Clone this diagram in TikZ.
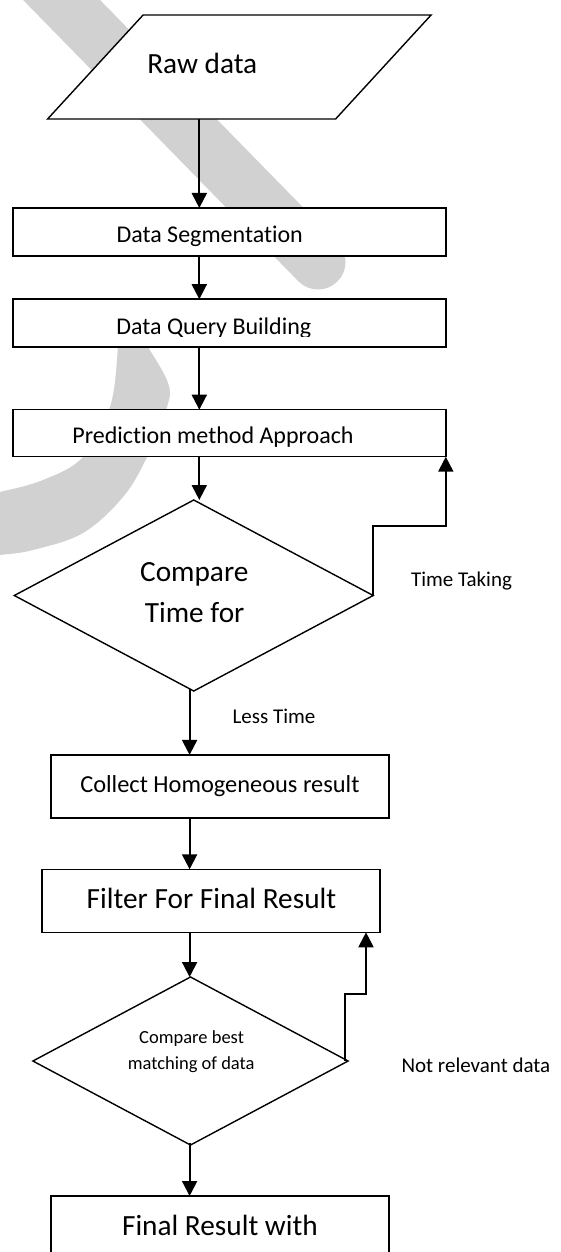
\documentclass[tikz,border=0pt]{standalone}
\usepackage{fontspec}
\setmainfont{Carlito}[Ligatures=NoCommon]
\usetikzlibrary{arrows.meta,shapes.geometric}
\definecolor{wm}{gray}{0.82}
\begin{document}
\begin{tikzpicture}[x=1pt,y=-1pt,
  box/.style={draw, line width=1.5pt, fill=white, rectangle, inner sep=0pt, outer sep=0pt},
  dia/.style={draw, line width=1.4pt, fill=white, diamond, inner sep=0pt, outer sep=0pt},
  arr/.style={line width=2pt, -{Triangle[width=15pt,length=15pt]}},
  lbl/.style={inner sep=0pt, outer sep=0pt, anchor=base, text=black},
  fbig/.style={font=\fontsize{29.3}{34}\selectfont},
  fmid/.style={font=\fontsize{24}{29}\selectfont},
  fmidb/.style={font=\fontsize{24.4}{29}\selectfont},
  fsml/.style={font=\fontsize{21}{25}\selectfont},
  fxs/.style={font=\fontsize{18.5}{22}\selectfont}]
\useasboundingbox (0,0) rectangle (561,1252);
\clip (0,0) rectangle (561,1252);
\fill[white] (0,0) rectangle (561,1252);

% watermark
\draw[wm, line width=55pt, line cap=round] (42,-20) -- (318,262);
\fill[wm] plot[smooth, tension=0.6] coordinates {(118,322) (118,347) (110,407) (83,457) (43,480) (0,492) (-10,494)}
  -- plot[smooth, tension=0.6] coordinates {(-10,556) (0,555) (33,550) (83,533) (123,497) (147,457) (167,407) (168,383) (148,347) (132,322)} -- cycle;

% input parallelogram
\draw[line width=1.4pt, fill=white] (143.1,15) -- (431.1,15) -- (335.6,119) -- (47.6,119) -- cycle;
\coordinate (rawS) at (199.3,119);
\coordinate (ax1) at (199.3,0);
\coordinate (ax2) at (189.6,0);
\node[lbl, fbig] (rawT) at (202.3,73.3) {Raw data};

% boxes
\node[box, minimum width=432.6, minimum height=48] (seg) at (229.5,232) {};
\node[box, minimum width=432.6, minimum height=48] (query) at (229.5,323.2) {};
\node[box, minimum width=432.6, minimum height=47] (pred) at (229.5,433.2) {};
\node[dia, minimum width=358.9, minimum height=191] (d1) at (193.75,595.5) {};
\node[box, minimum width=337.7, minimum height=63] (collect) at (220,786.4) {};
\node[box, minimum width=337.8, minimum height=63] (filter) at (211.1,900.8) {};
\node[dia, minimum width=315.2, minimum height=168] (d2) at (190.5,1061) {};
\node[box, minimum width=337.7, minimum height=120] (final) at (220,1256) {};

% texts
\node[lbl, fmid] (segT) at (209.7,242.3) {Data Segmentation};
\begin{scope}
\clip (14,300) rectangle (445,336);
\node[lbl, fmid] (queryT) at (213.8,334.5) {Data Query Building};
\end{scope}
\node[lbl, fmid] (predT) at (213,443.8) {Prediction method Approach};
\node[lbl, fbig] (d1a) at (194.3,581.7) {Compare};
\node[lbl, fbig] (d1b) at (194.6,622.7) {Time for};
\node[lbl, fsml] (ttT) at (461.5,586) {Time Taking};
\node[lbl, fsml] (ltT) at (274,723.3) {Less Time};
\node[lbl, fmidb] (collectT) at (219.9,792.7) {Collect Homogeneous result};
\node[lbl, fbig] (filterT) at (211.5,908.3) {Filter For Final Result};
\node[lbl, fxs] (d2a) at (191.6,1043.3) {Compare best};
\node[lbl, fxs] (d2b) at (191.2,1069) {matching of data};
\node[lbl, fsml] (nrT) at (475.9,1072.7) {Not relevant data};
\node[lbl, fbig] (finalT) at (220,1235) {Final Result with};

% connectors
\draw[arr] (rawS) -- (rawS |- seg.north);
\draw[arr] (seg.south -| ax1) -- (query.north -| ax1);
\draw[arr] (query.south -| ax1) -- (pred.north -| ax1);
\draw[arr] (pred.south -| ax1) -- (d1.north -| ax1);
\draw[arr] ([yshift=2pt]d1.south -| ax2) -- (collect.north -| ax2);
\draw[arr] (collect.south -| ax2) -- (filter.north -| ax2);
\draw[arr] (filter.south -| ax2) -- (d2.north -| ax2);
\draw[arr] ([yshift=2pt]d2.south -| ax2) -- (final.north -| ax2);

\coordinate (fb1) at (445.8,525.7);
\draw[arr] (d1.east) |- (fb1) -- (fb1 |- pred.south);
\coordinate (fb2) at (366,994);
\draw[arr] ([xshift=-3pt]d2.east) |- (fb2) -- (fb2 |- filter.south);
\end{tikzpicture}
\end{document}
